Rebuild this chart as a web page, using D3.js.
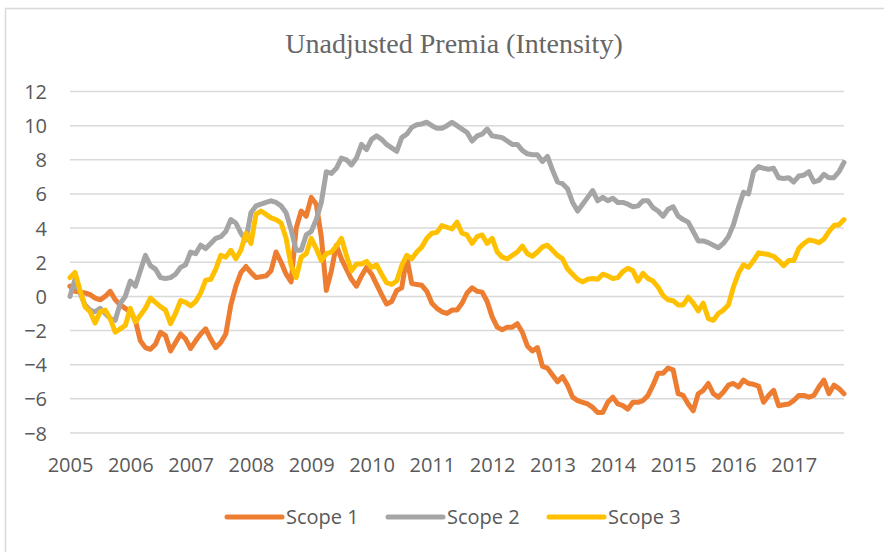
<!DOCTYPE html>
<html>
<head>
<meta charset="utf-8">
<script src="https://cdn.jsdelivr.net/npm/d3@7"></script>
<style>
  html, body { margin: 0; padding: 0; background: #ffffff; }
  svg { display: block; }
</style>
</head>
<body>
<svg id="chart" width="884" height="552"></svg>
<script>
const title = "Unadjusted Premia (Intensity)";
const yearLabels = ["2005","2006","2007","2008","2009","2010","2011","2012","2013","2014","2015","2016","2017"];
const yTicks = [-8,-6,-4,-2,0,2,4,6,8,10,12];
const seriesNames = ["Scope 1","Scope 2","Scope 3"];
const seriesColors = ["#ED7D31","#A5A5A5","#FFC000"];

// Monthly values, Jan 2005 .. Nov 2017
const scope1 = [
  0.6,0.3,0.25,0.2,0.1,-0.1,-0.2,0.0,0.3,-0.2,-0.5,-0.7,
  -0.9,-1.4,-2.6,-3.0,-3.1,-2.8,-2.1,-2.3,-3.2,-2.7,-2.2,-2.5,
  -3.05,-2.6,-2.2,-1.9,-2.5,-3.0,-2.7,-2.2,-0.5,0.6,1.4,1.75,
  1.4,1.1,1.15,1.2,1.5,2.6,2.0,1.3,0.85,4.0,5.0,4.7,
  5.8,5.4,3.5,0.35,1.5,3.0,2.2,1.6,1.0,0.6,1.2,1.7,
  1.3,0.7,0.1,-0.45,-0.3,0.35,0.5,2.3,0.75,0.7,0.65,0.3,
  -0.4,-0.7,-0.9,-1.0,-0.8,-0.8,-0.4,0.2,0.5,0.3,0.25,-0.3,
  -1.2,-1.8,-1.95,-1.8,-1.8,-1.6,-2.1,-2.9,-3.2,-3.0,-4.1,-4.2,
  -4.6,-5.0,-4.7,-5.2,-5.9,-6.1,-6.2,-6.3,-6.5,-6.8,-6.8,-6.2,
  -5.9,-6.3,-6.4,-6.6,-6.2,-6.2,-6.1,-5.8,-5.2,-4.5,-4.5,-4.2,
  -4.3,-5.7,-5.8,-6.3,-6.7,-5.7,-5.5,-5.1,-5.7,-5.9,-5.6,-5.2,
  -5.1,-5.3,-4.9,-5.1,-5.15,-5.25,-6.2,-5.8,-5.5,-6.4,-6.35,-6.3,
  -6.1,-5.8,-5.8,-5.9,-5.8,-5.3,-4.9,-5.7,-5.2,-5.4,-5.7
];
const scope2 = [
  0.0,1.0,0.2,-0.5,-0.8,-0.9,-0.7,-1.0,-1.3,-1.4,-0.4,0.0,
  0.9,0.6,1.5,2.4,1.8,1.6,1.1,1.05,1.1,1.3,1.7,1.85,
  2.6,2.5,3.0,2.8,3.1,3.4,3.5,3.8,4.5,4.3,3.7,3.3,
  4.9,5.3,5.4,5.5,5.6,5.5,5.3,4.9,3.9,2.7,2.7,3.6,
  3.8,4.5,5.5,7.3,7.2,7.5,8.1,8.0,7.7,8.1,8.9,8.6,
  9.2,9.4,9.2,8.9,8.7,8.5,9.3,9.5,9.9,10.05,10.1,10.2,
  10.0,9.85,9.85,10.0,10.2,10.0,9.8,9.6,9.1,9.4,9.5,9.8,
  9.4,9.35,9.3,9.1,8.9,8.9,8.55,8.35,8.3,8.3,7.9,8.2,
  7.4,6.7,6.6,6.3,5.5,5.0,5.4,5.8,6.2,5.6,5.8,5.6,
  5.75,5.5,5.5,5.4,5.25,5.3,5.6,5.6,5.2,5.0,4.7,5.1,
  5.25,4.7,4.5,4.35,3.8,3.25,3.25,3.15,3.0,2.85,3.1,3.5,
  4.2,5.2,6.1,6.0,7.3,7.6,7.5,7.45,7.5,6.95,6.9,6.95,
  6.7,7.05,7.1,7.3,6.7,6.8,7.15,6.95,6.95,7.3,7.85
];
const scope3 = [
  1.1,1.4,0.35,-0.6,-0.9,-1.55,-0.9,-0.8,-1.3,-2.1,-1.9,-1.7,
  -0.7,-1.5,-1.1,-0.7,-0.1,-0.35,-0.6,-0.8,-1.6,-1.0,-0.25,-0.35,
  -0.55,-0.3,0.2,0.95,1.0,1.6,2.4,2.3,2.7,2.2,2.7,3.7,
  3.1,4.8,5.0,4.8,4.6,4.5,4.3,3.4,1.8,1.1,2.3,2.5,
  3.4,2.8,2.1,2.5,2.6,2.95,3.4,2.4,1.5,1.9,1.9,2.05,
  1.7,1.85,1.3,0.8,0.7,0.9,1.8,2.4,2.2,2.6,2.9,3.4,
  3.7,3.75,4.15,4.05,3.95,4.35,3.7,3.6,3.1,3.5,3.6,3.1,
  3.4,2.6,2.3,2.2,2.4,2.6,2.95,2.5,2.35,2.6,2.9,3.0,
  2.7,2.4,2.2,1.6,1.3,1.0,0.85,1.0,1.05,1.0,1.3,1.2,
  1.05,1.1,1.45,1.65,1.5,0.9,1.35,1.05,0.9,0.55,0.05,-0.2,
  -0.25,-0.5,-0.5,-0.05,-0.4,-0.85,-0.4,-1.3,-1.4,-1.0,-0.8,-0.5,
  0.55,1.35,1.85,1.7,2.1,2.55,2.5,2.45,2.35,2.1,1.8,2.1,
  2.1,2.8,3.1,3.3,3.25,3.15,3.35,3.8,4.15,4.2,4.5
];

const series = [scope1, scope2, scope3];

const svg = d3.select("#chart");
const W = 884, H = 552;
const plot = { left: 70, right: 844, top: 91.5, bottom: 433 };

// chart area border
svg.append("rect")
  .attr("x", 5.5).attr("y", 8.5)
  .attr("width", W + 20).attr("height", H + 20)
  .attr("fill", "#ffffff")
  .attr("stroke", "#d9d9d9").attr("stroke-width", 1.5);

const x = d3.scaleLinear().domain([0, scope1.length - 1]).range([plot.left, plot.right]);
const y = d3.scaleLinear().domain([-8, 12]).range([plot.bottom, plot.top]);

// title
svg.append("text")
  .attr("x", 454).attr("y", 53)
  .attr("text-anchor", "middle")
  .style("font-family", "'Liberation Serif', 'DejaVu Serif', serif")
  .style("font-size", "28px")
  .attr("fill", "#666666")
  .text(title);

// gridlines
svg.append("g").selectAll("line")
  .data(yTicks).join("line")
  .attr("x1", plot.left).attr("x2", plot.right)
  .attr("y1", d => y(d)).attr("y2", d => y(d))
  .attr("stroke", "#d9d9d9").attr("stroke-width", 1.5);

const labelFont = "'Open Sans', sans-serif";
const labelSize = "20px";

// y axis
const yAxis = d3.axisLeft(y).tickValues(yTicks).tickSize(0).tickPadding(0).tickFormat(d3.format("d"));
const gy = svg.append("g").attr("transform", `translate(${plot.left - 23},0)`).call(yAxis);
gy.select(".domain").remove();
gy.selectAll("text")
  .style("font-family", labelFont)
  .style("font-size", labelSize)
  .attr("fill", "#595959")
  .attr("dy", "0.35em");

// x axis
const yearIdx = yearLabels.map((_, i) => i * 12);
const xAxis = d3.axisBottom(x).tickValues(yearIdx).tickSize(0).tickPadding(0)
  .tickFormat((d, i) => yearLabels[i]);
const gx = svg.append("g").attr("transform", `translate(0,472)`).call(xAxis);
gx.select(".domain").remove();
gx.selectAll("text")
  .style("font-family", labelFont)
  .style("font-size", labelSize)
  .attr("fill", "#595959")
  .attr("dy", "0");

// lines
const line = d3.line().x((d, i) => x(i)).y(d => y(d)).curve(d3.curveLinear);
svg.append("g").selectAll("path")
  .data(series).join("path")
  .attr("d", d => line(d))
  .attr("fill", "none")
  .attr("stroke", (d, i) => seriesColors[i])
  .attr("stroke-width", 5)
  .attr("stroke-linejoin", "round")
  .attr("stroke-linecap", "round");

// legend
const legendX = [227, 388, 549];
const lg = svg.append("g");
seriesNames.forEach((name, i) => {
  lg.append("line")
    .attr("x1", legendX[i]).attr("x2", legendX[i] + 55)
    .attr("y1", 517).attr("y2", 517)
    .attr("stroke", seriesColors[i]).attr("stroke-width", 5)
    .attr("stroke-linecap", "round");
  lg.append("text")
    .attr("x", legendX[i] + 59).attr("y", 524)
    .style("font-family", labelFont)
    .style("font-size", labelSize)
    .attr("fill", "#595959")
    .text(name);
});
</script>
</body>
</html>
